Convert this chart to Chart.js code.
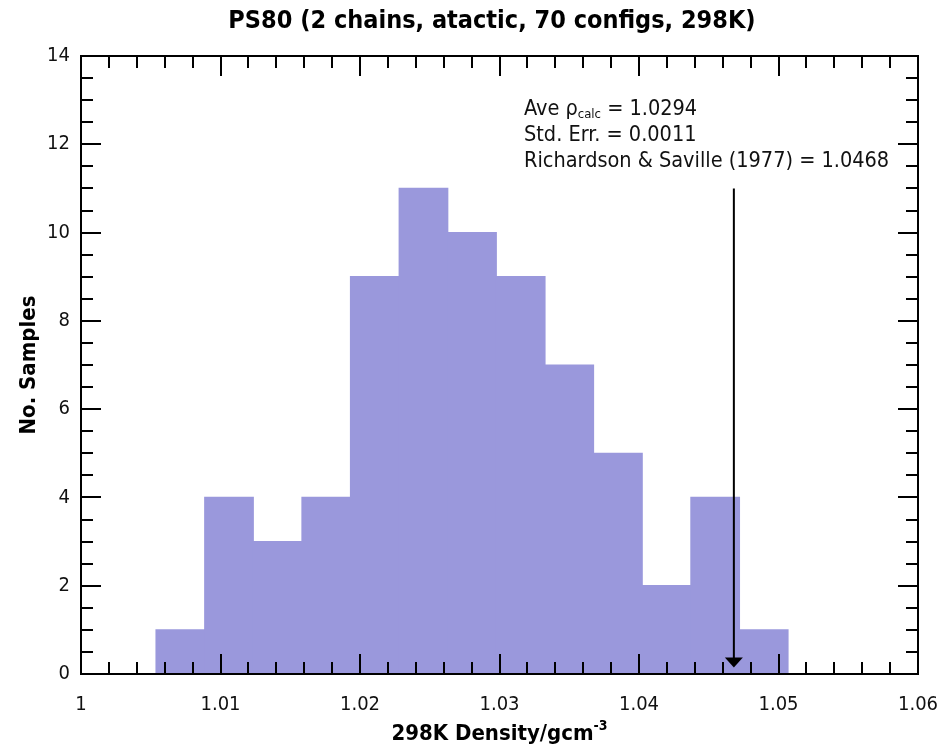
<!DOCTYPE html>
<html><head><meta charset="utf-8">
<script src="https://cdn.jsdelivr.net/npm/chart.js@4.4.1/dist/chart.umd.min.js"></script>
<style>html,body{margin:0;padding:0;background:#fff}#wrap{width:951px;height:746px;position:relative}</style>
</head><body><div id="wrap"><canvas id="c"></canvas></div>
<script>
// ---- data ----
const binCenters = [1.00712, 1.01061, 1.01409, 1.01758, 1.02106, 1.02455, 1.02803, 1.03152, 1.03500, 1.03849, 1.04197, 1.04546, 1.04894];
const counts     = [1, 4, 3, 4, 9, 11, 10, 9, 7, 5, 2, 4, 1];
const xTickLabels = ['1', '1.01', '1.02', '1.03', '1.04', '1.05', '1.06'];
const yTickLabels = ['0', '2', '4', '6', '8', '10', '12', '14'];
const titleText = 'PS80 (2 chains, atactic, 70 configs, 298K)';
const xTitle = '298K Density/gcm';
const xTitleSup = '-3';
const yTitle = 'No. Samples';
const aveValue = '1.0294';
const stdErr = '0.0011';
const refLabel = 'Richardson & Saville (1977) = 1.0468';
const refValue = 1.0468;
const arrowTop = 11;
const arrowTip = 0.15;

const FONT = '"DejaVu Sans Condensed", "DejaVu Sans", sans-serif';

const points = binCenters.map((x, i) => ({x: x, y: counts[i]}));

const decor = {
  id: 'decor',
  afterDraw(chart) {
    const ctx = chart.ctx;
    const a = chart.chartArea;
    const xs = chart.scales.x, ys = chart.scales.y;
    ctx.save();
    ctx.strokeStyle = '#000';
    ctx.fillStyle = '#000';
    ctx.lineWidth = 2;
    // frame
    ctx.strokeRect(a.left, a.top, a.right - a.left, a.bottom - a.top);
    // x ticks (minor every 0.002, major every 0.01)
    const xmin = xs.min, xmax = xs.max;
    const nx = Math.round((xmax - xmin) / 0.002);
    ctx.beginPath();
    for (let i = 0; i <= nx; i++) {
      const v = xmin + i * 0.002;
      const px = Math.round(xs.getPixelForValue(v));
      const len = (i % 5 === 0) ? 20 : 12;
      ctx.moveTo(px, a.bottom); ctx.lineTo(px, a.bottom - len);
      ctx.moveTo(px, a.top); ctx.lineTo(px, a.top + len);
    }
    // y ticks (minor every 0.5, major every 2)
    const ny = Math.round((ys.max - ys.min) / 0.5);
    for (let i = 0; i <= ny; i++) {
      const v = ys.min + i * 0.5;
      const py = Math.round(ys.getPixelForValue(v));
      const len = (i % 4 === 0) ? 20 : 12;
      ctx.moveTo(a.left, py); ctx.lineTo(a.left + len, py);
      ctx.moveTo(a.right, py); ctx.lineTo(a.right - len, py);
    }
    ctx.stroke();

    // arrow
    const ax = xs.getPixelForValue(refValue);
    const ay0 = ys.getPixelForValue(arrowTop);
    const ay1 = ys.getPixelForValue(arrowTip);
    ctx.beginPath();
    ctx.moveTo(ax, ay0); ctx.lineTo(ax, ay1 - 8);
    ctx.stroke();
    ctx.beginPath();
    ctx.moveTo(ax - 9, ay1 - 10); ctx.lineTo(ax + 9, ay1 - 10); ctx.lineTo(ax, ay1); ctx.closePath();
    ctx.fill();

    // annotation text
    ctx.fillStyle = '#111';
    ctx.textAlign = 'left';
    ctx.textBaseline = 'alphabetic';
    const tx = 524;
    const af = '21.5px ' + FONT;
    ctx.font = af;
    let s = 'Ave \u03C1';
    ctx.fillText(s, tx, 115);
    let w = ctx.measureText(s).width;
    ctx.font = '13px ' + FONT;
    ctx.fillText('calc', tx + w, 118);
    const w2 = ctx.measureText('calc').width;
    ctx.font = af;
    ctx.fillText(' = ' + aveValue, tx + w + w2, 115);
    ctx.fillText('Std. Err. = ' + stdErr, tx, 141);
    ctx.fillText(refLabel, tx, 167);

    // title
    ctx.fillStyle = '#000';
    ctx.textAlign = 'center';
    ctx.font = 'bold 25px ' + FONT;
    ctx.fillText(titleText, 492, 28);

    // x title with superscript
    ctx.font = 'bold 22px ' + FONT;
    const wm = ctx.measureText(xTitle).width;
    ctx.font = 'bold 14px ' + FONT;
    const ws = ctx.measureText(xTitleSup).width;
    const startX = (a.left + a.right) / 2 - (wm + ws) / 2;
    ctx.textAlign = 'left';
    ctx.font = 'bold 22px ' + FONT;
    ctx.fillText(xTitle, startX, 740);
    ctx.font = 'bold 14px ' + FONT;
    ctx.fillText(xTitleSup, startX + wm, 730);

    // y title
    ctx.save();
    ctx.translate(29, (a.top + a.bottom) / 2);
    ctx.rotate(-Math.PI / 2);
    ctx.textAlign = 'center';
    ctx.textBaseline = 'middle';
    ctx.font = 'bold 22px ' + FONT;
    ctx.fillText(yTitle, 0, 0);
    ctx.restore();

    ctx.restore();
  }
};

new Chart(document.getElementById('c'), {
  type: 'bar',
  data: {
    datasets: [{
      data: points,
      backgroundColor: '#9a98dc',
      borderWidth: 0,
      inflateAmount: 0.6,
      barPercentage: 1.0,
      categoryPercentage: 1.0
    }]
  },
  options: {
    responsive: true,
    maintainAspectRatio: false,
    animation: false,
    layout: {padding: {left: 0, top: 56, right: 33, bottom: 0}},
    plugins: {legend: {display: false}, tooltip: {enabled: false}, title: {display: false}},
    scales: {
      x: {
        type: 'linear', min: 1, max: 1.06, offset: false,
        grid: {display: false, drawTicks: false},
        border: {display: false},
        afterFit(scale) { scale.height = 72; scale.paddingLeft = 0; scale.paddingRight = 0; },
        afterBuildTicks(scale) {
          scale.ticks = xTickLabels.map(t => ({value: parseFloat(t)}));
        },
        ticks: {
          padding: 19, maxRotation: 0, autoSkip: false,
          color: '#111',
          font: {family: FONT, size: 20},
          callback: (v, i) => xTickLabels[i]
        }
      },
      y: {
        min: 0, max: 14,
        grid: {display: false, drawTicks: false},
        border: {display: false},
        afterFit(scale) { scale.width = 81; scale.paddingTop = 0; scale.paddingBottom = 0; },
        afterBuildTicks(scale) {
          scale.ticks = yTickLabels.map(t => ({value: parseFloat(t)}));
        },
        ticks: {
          padding: 11, autoSkip: false,
          color: '#111',
          font: {family: FONT, size: 20},
          callback: (v, i) => yTickLabels[i]
        }
      }
    }
  },
  plugins: [decor]
});
</script>
</body></html>
